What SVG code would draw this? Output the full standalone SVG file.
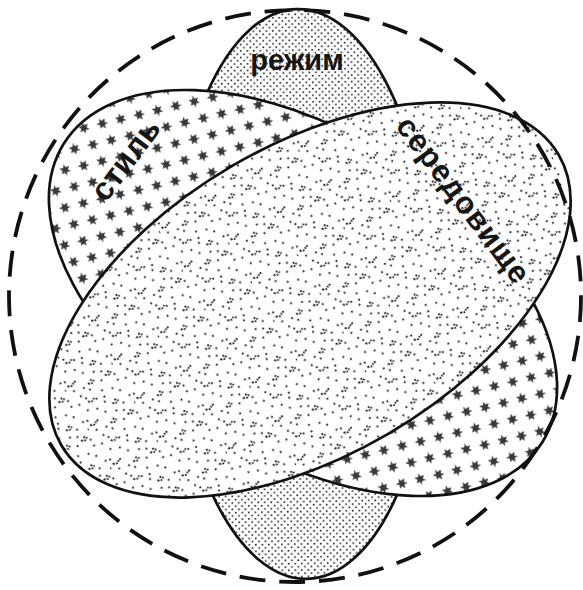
<svg xmlns="http://www.w3.org/2000/svg" width="583" height="590" viewBox="0 0 583 590">
<style>
.outline{stroke:#111;stroke-width:2.7;}
.lbl{font-family:"Liberation Sans",Arial,sans-serif;font-weight:bold;fill:#151515;}
.dash{fill:none;stroke:#111;stroke-width:3.8;stroke-dasharray:26 13.9;}
.arc{fill:none;stroke:#111;stroke-width:1.6;stroke-dasharray:1.7 1.2;}
</style>
<defs>
<pattern id="pDots" width="6.5" height="6.5" patternUnits="userSpaceOnUse">
<rect width="6.5" height="6.5" fill="#fff"/>
<rect x="0.4" y="0.4" width="1.6" height="1.6" fill="#1a1a1a"/>
<rect x="3.65" y="3.65" width="1.6" height="1.6" fill="#1a1a1a"/>
</pattern>
<path id="star" d="M0,-5.4 L1.6,-2.1 L5,-3.2 L2.8,0 L5.3,3 L1.7,2.4 L0.6,5.6 L-1.2,2.6 L-5,3.5 L-2.8,0.2 L-5.2,-2.8 L-1.8,-2 Z" fill="#383838"/>
<pattern id="pStars" width="30" height="23" patternUnits="userSpaceOnUse" patternTransform="rotate(-8)">
<rect width="30" height="23" fill="#fff"/>
<use href="#star" x="7" y="6"/>
<use href="#star" x="22" y="17.5" transform="rotate(20 22 17.5)"/>
</pattern>
<pattern id="pSpeck" width="48" height="40" patternUnits="userSpaceOnUse" patternTransform="scale(1.12)">
<rect width="48" height="40" fill="#fff"/>
<g fill="#111">
<rect x="3" y="4" width="1.6" height="1.6"/><rect x="11" y="2" width="1.6" height="1.6"/>
<rect x="19" y="7" width="1.6" height="1.6"/><rect x="27" y="3" width="1.6" height="1.6"/>
<rect x="36" y="6" width="1.6" height="1.6"/><rect x="44" y="2" width="1.6" height="1.6"/>
<rect x="7" y="12" width="1.6" height="1.6"/><rect x="15" y="15" width="1.6" height="1.6"/>
<rect x="24" y="13" width="1.6" height="1.6"/><rect x="33" y="16" width="1.6" height="1.6"/>
<rect x="41" y="11" width="1.6" height="1.6"/><rect x="2" y="20" width="1.6" height="1.6"/>
<rect x="10" y="24" width="1.6" height="1.6"/><rect x="20" y="21" width="1.6" height="1.6"/>
<rect x="29" y="25" width="1.6" height="1.6"/><rect x="38" y="22" width="1.6" height="1.6"/>
<rect x="46" y="19" width="1.6" height="1.6"/><rect x="5" y="31" width="1.6" height="1.6"/>
<rect x="14" y="33" width="1.6" height="1.6"/><rect x="23" y="30" width="1.6" height="1.6"/>
<rect x="31" y="35" width="1.6" height="1.6"/><rect x="40" y="31" width="1.6" height="1.6"/>
<rect x="8" y="38" width="1.6" height="1.6"/><rect x="18" y="37" width="1.6" height="1.6"/>
<rect x="35" y="28" width="1.6" height="1.6"/><rect x="44" y="36" width="1.6" height="1.6"/>
<rect x="26" y="9" width="1.6" height="1.6"/><rect x="47" y="27" width="1" height="1.6"/>
</g>
<path class="arc" d="M12,6 q3,3.5 6,0"/>
<path class="arc" d="M30,18 q3,3.5 6,0"/>
<path class="arc" d="M3,25 q3,3.5 6,0"/>
<path class="arc" d="M37,33 q3,3.5 6,0"/>
<path class="arc" d="M20,32 q3,3.5 6,0"/>
</pattern>
</defs>

<g id="rezhym">
<ellipse class="outline" cx="302" cy="294" rx="130" ry="285" transform="rotate(-1 302 294)" fill="url(#pDots)"/>
<text class="lbl" x="297" y="70" font-size="29" text-anchor="middle">режим</text>
</g>

<g id="styl">
<ellipse class="outline" cx="303" cy="293" rx="282" ry="162" transform="rotate(32 303 293)" fill="url(#pStars)"/>
<text class="lbl" font-size="32" text-anchor="middle" transform="translate(134,166) rotate(-53)">стиль</text>
</g>

<g id="seredovyshche">
<ellipse class="outline" cx="310" cy="300" rx="288" ry="155" transform="rotate(-30.3 310 300)" fill="url(#pSpeck)"/>
<text class="lbl" font-size="31" text-anchor="middle" textLength="200" lengthAdjust="spacing" transform="translate(455,206) rotate(53)">середовище</text>
</g>

<g id="connectors">
<circle class="dash" cx="295" cy="296" r="286"/>
</g>
</svg>
